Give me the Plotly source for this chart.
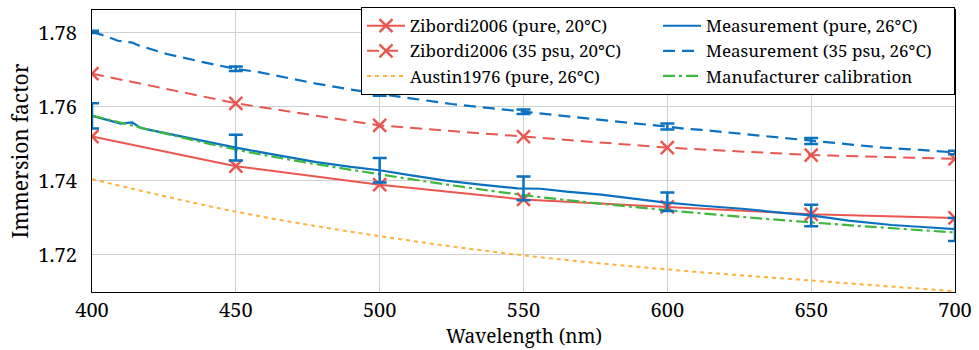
import plotly.graph_objects as go

# Wavelength grid for the tabulated reference curves (nm)
wl_ref = [400, 450, 500, 550, 600, 650, 700]

zibordi_pure = [1.752, 1.744, 1.739, 1.735, 1.733, 1.731, 1.730]
zibordi_35psu = [1.769, 1.761, 1.755, 1.752, 1.749, 1.747, 1.746]
austin_pure = [1.7405, 1.7317, 1.7251, 1.7199, 1.7161, 1.7131, 1.7102]
manufacturer = [1.7577, 1.7485, 1.7418, 1.7362, 1.7321, 1.7288, 1.7261]

# Measured immersion factor, pure water (26 °C)
wl_meas_pure = [400, 405, 410, 414, 417, 420, 428, 438, 450, 460, 470, 478, 490,
                500, 511, 523, 535, 548, 556, 565, 577, 588, 598, 612, 626, 640,
                650, 663, 678, 690, 700]
meas_pure = [1.7576, 1.7566, 1.7555, 1.7558, 1.7543, 1.7538, 1.7525, 1.7508, 1.7490,
             1.7476, 1.7462, 1.7451, 1.7438, 1.7429, 1.7415, 1.7401, 1.7390, 1.7380,
             1.7379, 1.7371, 1.7363, 1.7353, 1.7343, 1.7333, 1.7325, 1.7314, 1.7307,
             1.7293, 1.7281, 1.7275, 1.7270]

# Measured immersion factor, 35 psu seawater (26 °C)
wl_meas_sea = [400, 405, 409, 414, 416, 426, 441, 450, 458, 468, 478, 490, 500, 512,
               525, 538, 550, 562, 575, 588, 600, 606, 612, 625, 638, 650, 662, 675,
               688, 700]
meas_sea = [1.7803, 1.7791, 1.7779, 1.7774, 1.7767, 1.7743, 1.7717, 1.7703, 1.7694,
            1.7678, 1.7663, 1.7647, 1.7635, 1.7622, 1.7608, 1.7597, 1.7587, 1.7576,
            1.7565, 1.7556, 1.7547, 1.7541, 1.7538, 1.7528, 1.7518, 1.7508, 1.7499,
            1.7490, 1.7484, 1.7477]

# Error bars are shown every 50 nm
wl_err = [400, 450, 500, 550, 600, 650, 700]
meas_pure_at_err = [1.7576, 1.7490, 1.7429, 1.7380, 1.7344, 1.7307, 1.7269]
meas_pure_err = [0.0034, 0.0035, 0.0033, 0.0032, 0.0025, 0.0029, 0.0031]
meas_sea_at_err = [1.7803, 1.7703, 1.7635, 1.7587, 1.7547, 1.7508, 1.7477]
meas_sea_err = [0.0003, 0.0006, 0.0005, 0.0006, 0.0008, 0.0008, 0.0005]

RED = "#EA5650"
BLUE = "#0A72C0"
ORANGE = "#FFB13B"
GREEN = "#3DB83D"
FONT = "Noto Serif, Liberation Serif, serif"
BOTTOM = 58

fig = go.Figure()

def err_trace(x, y, e):
    return go.Scatter(
        x=x, y=y, mode="markers", showlegend=False, hoverinfo="skip",
        marker=dict(size=1, color="rgba(0,0,0,0)"),
        error_y=dict(type="data", array=e, visible=True, color=BLUE,
                     thickness=2.5, width=7),
    )

# Legend fills row-wise, so entries are interleaved for two columns
fig.add_trace(go.Scatter(
    x=wl_ref, y=zibordi_pure, name="Zibordi2006 (pure, 20°C)", mode="lines+markers",
    line=dict(color=RED, width=2),
    marker=dict(symbol="x-thin", size=13, line=dict(color=RED, width=2.5)),
))
fig.add_trace(go.Scatter(
    x=wl_meas_pure, y=meas_pure, name="Measurement (pure, 26°C)", mode="lines",
    line=dict(color=BLUE, width=2.2),
))
fig.add_trace(go.Scatter(
    x=wl_ref, y=zibordi_35psu, name="Zibordi2006 (35 psu, 20°C)", mode="lines+markers",
    line=dict(color=RED, width=2, dash="12px,7px"),
    marker=dict(symbol="x-thin", size=13, line=dict(color=RED, width=2.5)),
))
fig.add_trace(go.Scatter(
    x=wl_meas_sea, y=meas_sea, name="Measurement (35 psu, 26°C)", mode="lines",
    line=dict(color=BLUE, width=2.2, dash="12px,7px"),
))
fig.add_trace(go.Scatter(
    x=wl_ref, y=austin_pure, name="Austin1976 (pure, 26°C)", mode="lines",
    line=dict(color=ORANGE, width=2, dash="4px,4px", shape="spline"),
))
fig.add_trace(go.Scatter(
    x=wl_ref, y=manufacturer, name="Manufacturer calibration", mode="lines",
    line=dict(color=GREEN, width=2.2, dash="12px,4px,3px,4px", shape="spline"),
))
fig.add_trace(err_trace(wl_err, meas_pure_at_err, meas_pure_err))
fig.add_trace(err_trace(wl_err, meas_sea_at_err, meas_sea_err))

axis_common = dict(
    showgrid=True, gridcolor="#D0D0D0", gridwidth=1,
    showline=True, linecolor="black", linewidth=1.2, mirror=True,
    ticks="", zeroline=False,
    tickfont=dict(family=FONT, size=20, color="black"),
)

fig.update_layout(
    width=979, height=350,
    margin=dict(l=92, r=21, t=7, b=BOTTOM),
    paper_bgcolor="white", plot_bgcolor="white",
    font=dict(family=FONT, color="black"),
    xaxis=dict(
        **axis_common, range=[400, 700], tickvals=[400, 450, 500, 550, 600, 650, 700],
        ticklabelstandoff=0,
    ),
    yaxis=dict(
        **axis_common, range=[1.7100, 1.7862], tickvals=[1.72, 1.74, 1.76, 1.78],
        tickformat=".2f", ticklabelstandoff=10,
        title=dict(text="Immersion factor", font=dict(family=FONT, size=21), standoff=4),
    ),
    legend=dict(
        orientation="h", x=1, xanchor="right", y=1.01, yanchor="top",
        bgcolor="white", bordercolor="black", borderwidth=1,
        font=dict(family=FONT, size=17, color="black"),
        entrywidth=243, tracegroupgap=0, itemwidth=38,
    ),
)

# x-axis title placed against the bottom edge, below the tick labels
fig.add_annotation(
    text="Wavelength (nm)", xref="paper", yref="paper", x=0.5, y=0,
    xanchor="center", yanchor="bottom", yshift=-BOTTOM, showarrow=False,
    font=dict(family=FONT, size=19, color="black"), borderpad=0,
)

fig.write_html("out.html")
